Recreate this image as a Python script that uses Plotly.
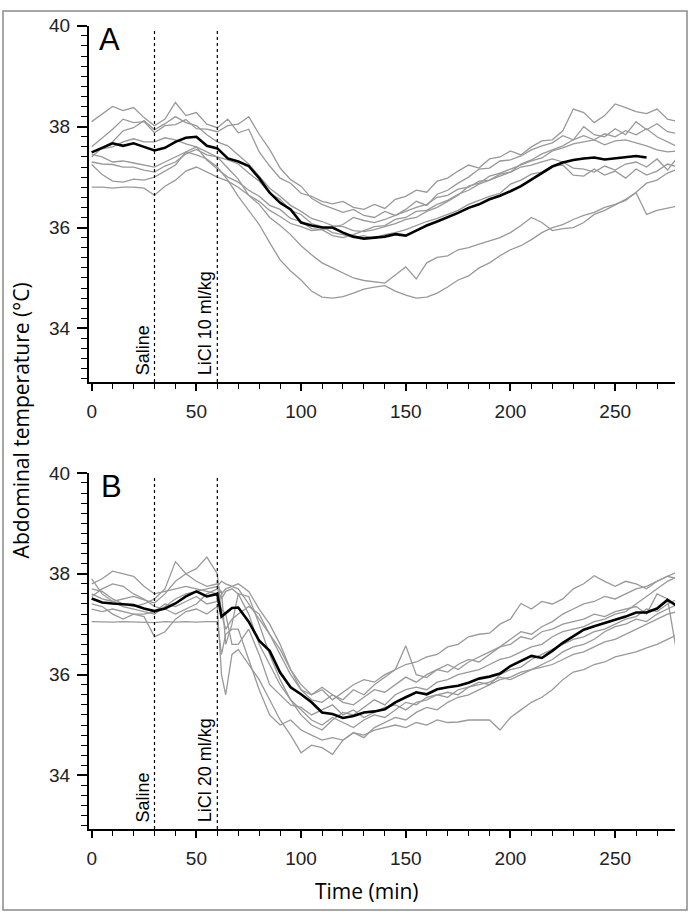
import plotly.graph_objects as go

# ---------------- data ----------------
# Panel A (LiCl 10 ml/kg): time grid in minutes
time_a = list(range(0, 281, 5))
a_traces = {
    "A1": [38.10, 38.25, 38.40, 38.32, 38.38, 38.18, 38.02, 38.15, 38.48, 38.22, 38.28, 38.05, 37.98, 38.15, 37.88, 37.95, 37.50, 37.22,
           36.98, 36.88, 36.68, 36.62, 36.52, 36.47, 36.52, 36.40, 36.36, 36.46, 36.38, 36.56, 36.62, 36.74, 36.70, 36.92, 36.98,
           37.12, 37.24, 37.18, 37.36, 37.40, 37.52, 37.44, 37.60, 37.72, 37.74, 37.92, 38.35, 38.28, 38.08, 38.22, 38.45, 38.38,
           38.30, 38.26, 38.35, 38.15, 38.10],
    "A2": [37.60, 37.78, 37.95, 38.15, 38.08, 38.10, 37.88, 38.02, 38.04, 38.14, 37.96, 37.95, 37.90, 38.02, 38.05, 38.20, 37.85, 37.55,
           37.18, 36.95, 36.82, 36.58, 36.46, 36.38, 36.30, 36.36, 36.24, 36.20, 36.32, 36.24, 36.36, 36.52, 36.44, 36.66, 36.74,
           36.88, 37.00, 37.16, 37.18, 37.32, 37.34, 37.42, 37.54, 37.62, 37.68, 37.82, 37.74, 38.00, 37.84, 37.80, 37.96, 37.84,
           38.10, 37.94, 38.06, 37.90, 37.86],
    "A3": [37.40, 37.58, 37.70, 37.92, 37.98, 38.12, 37.94, 38.06, 38.20, 38.08, 38.02, 37.84, 37.70, 37.62, 37.44, 37.26, 37.02, 36.78,
           36.62, 36.44, 36.32, 36.18, 36.12, 36.04, 36.02, 35.94, 35.92, 35.96, 36.02, 36.08, 36.16, 36.20, 36.32, 36.40, 36.52,
           36.64, 36.82, 36.88, 37.02, 37.08, 37.16, 37.24, 37.32, 37.38, 37.52, 37.58, 37.66, 37.70, 37.74, 37.64, 37.72, 37.74,
           37.68, 37.62, 37.54, 37.50, 37.52],
    "A4": [37.30, 37.26, 37.25, 37.20, 37.20, 37.14, 37.10, 37.22, 37.30, 37.46, 37.55, 37.44, 37.40, 37.34, 37.26, 37.08, 36.92, 36.68,
           36.56, 36.34, 36.26, 36.08, 36.02, 35.90, 35.86, 35.80, 35.84, 35.78, 35.86, 35.90, 35.96, 36.04, 36.12, 36.18, 36.26,
           36.34, 36.46, 36.54, 36.62, 36.68, 36.86, 36.94, 37.06, 37.10, 37.22, 37.24, 37.04, 37.02, 37.16, 37.04, 37.12, 36.98,
           37.16, 37.04, 37.12, 37.26, 37.20],
    "A5": [36.80, 36.80, 36.78, 36.80, 36.80, 36.78, 36.64, 36.82, 36.94, 37.12, 37.20, 37.10, 37.00, 36.92, 36.80, 36.64, 36.52, 36.34,
           36.22, 36.08, 36.02, 35.94, 35.96, 36.00, 36.06, 36.20, 36.14, 36.10, 36.16, 36.24, 36.32, 36.40, 36.46, 36.60, 36.64,
           36.76, 36.80, 36.92, 36.94, 37.02, 37.10, 37.20, 37.24, 37.30, 37.36, 37.30, 37.18, 37.16, 37.10, 37.22, 37.14, 37.26,
           37.30, 37.20, 37.36, 37.14, 37.40],
    "A6": [37.25, 37.05, 36.92, 36.90, 36.96, 36.94, 37.00, 37.12, 37.24, 37.50, 37.60, 37.34, 37.16, 37.00, 36.90, 36.74, 36.62, 36.44,
           36.36, 36.18, 36.12, 35.98, 35.96, 35.84, 35.80, 35.86, 35.94, 36.02, 36.04, 36.16, 36.20, 36.32, 36.34, 36.46, 36.54,
           36.66, 36.74, 36.86, 36.94, 37.06, 37.10, 37.26, 37.34, 37.46, 37.54, 37.62, 37.74, 37.82, 37.74, 37.86, 37.80, 37.92,
           37.84, 37.96, 37.80, 37.70, 37.60],
    "A7": [37.45, 37.40, 37.30, 37.32, 37.28, 37.24, 37.20, 37.30, 37.40, 37.50, 37.44, 37.36, 37.20, 36.94, 36.62, 36.34, 36.06, 35.70,
           35.36, 35.14, 34.96, 34.74, 34.62, 34.60, 34.63, 34.70, 34.78, 34.82, 34.85, 34.74, 34.66, 34.60, 34.62, 34.70, 34.82,
           34.96, 35.04, 35.20, 35.30, 35.44, 35.56, 35.64, 35.76, 35.90, 36.00, 36.06, 36.16, 36.24, 36.30, 36.40, 36.46, 36.54,
           36.70, 36.88, 36.94, 37.08, 37.16],
    "A8": [37.50, 37.56, 37.60, 37.70, 37.76, 37.70, 37.70, 37.78, 37.74, 37.66, 37.60, 37.50, 37.40, 37.18, 36.96, 36.64, 36.46, 36.20,
           36.04, 35.86, 35.64, 35.46, 35.30, 35.20, 35.10, 35.00, 34.95, 34.92, 34.90, 35.06, 35.22, 34.98, 35.30, 35.41, 35.44,
           35.56, 35.60, 35.67, 35.74, 35.80, 35.90, 36.04, 36.20, 36.10, 35.94, 35.98, 36.00, 36.10, 36.26, 36.34, 36.45, 36.56,
           36.69, 36.26, 36.34, 36.38, 36.43],
}
mean_time_a = list(range(0, 266, 5))
mean_a = [37.49, 37.58, 37.67, 37.62, 37.67, 37.60, 37.53, 37.58, 37.70, 37.78, 37.80, 37.62, 37.57, 37.37, 37.31, 37.22, 36.98,
          36.69, 36.49, 36.36, 36.10, 36.04, 36.00, 36.00, 35.90, 35.82, 35.78, 35.80, 35.82, 35.87, 35.84, 35.94, 36.04, 36.12,
          36.20, 36.29, 36.39, 36.46, 36.56, 36.63, 36.72, 36.82, 36.95, 37.08, 37.21, 37.29, 37.34, 37.37, 37.39, 37.35, 37.37,
          37.39, 37.42, 37.39]

# Panel B (LiCl 20 ml/kg): time grid in minutes
time_b = list(range(0, 61, 5)) + [62, 64, 67] + list(range(70, 281, 5))
b_traces = {
    "B1": [37.60, 37.50, 37.45, 37.50, 37.55, 37.48, 37.42, 37.60, 37.85, 38.00, 37.85, 37.75, 37.80, 37.60, 37.70, 37.75,
           37.70, 37.40, 37.10, 36.80, 36.50, 36.10, 35.80, 35.60, 35.70, 35.50, 35.65, 35.80, 35.90, 35.85, 36.00, 36.10, 36.20,
           36.25, 36.35, 36.40, 36.55, 36.60, 36.75, 36.80, 36.82, 37.00, 37.10, 37.41, 37.30, 37.45, 37.40, 37.50, 37.70, 37.80,
           37.96, 37.85, 37.75, 37.85, 37.80, 37.70, 37.85, 37.95, 38.04],
    "B2": [37.90, 37.60, 37.45, 37.35, 37.30, 37.25, 37.20, 37.35, 37.50, 37.60, 37.65, 37.70, 37.75, 37.85, 37.80, 37.75,
           37.80, 37.65, 37.30, 37.00, 36.60, 36.10, 35.70, 35.60, 35.75, 35.60, 35.50, 35.70, 35.60, 35.80, 35.95, 36.10, 36.57,
           36.00, 35.94, 36.10, 36.20, 36.10, 36.25, 36.35, 36.45, 36.55, 36.70, 36.85, 36.80, 36.95, 37.05, 37.20, 37.30, 37.40,
           37.45, 37.55, 37.50, 37.60, 37.70, 37.75, 37.85, 37.95, 37.90],
    "B3": [37.70, 37.65, 37.50, 37.40, 37.35, 37.40, 37.50, 37.70, 38.24, 38.00, 38.10, 38.33, 38.00, 37.20, 36.90, 37.10,
           37.20, 37.35, 37.20, 36.80, 36.40, 36.00, 35.70, 35.50, 35.45, 35.60, 35.45, 35.40, 35.55, 35.70, 35.65, 35.80, 35.95,
           35.85, 36.00, 36.10, 36.05, 36.20, 36.30, 36.25, 36.40, 36.55, 36.60, 36.75, 36.70, 36.85, 36.90, 37.00, 37.05, 37.10,
           37.20, 37.15, 37.25, 37.30, 37.35, 37.20, 37.60, 37.50, 36.30],
    "B4": [37.05, 37.04, 37.04, 37.05, 37.04, 37.04, 37.03, 37.05, 37.04, 37.05, 37.04, 37.05, 37.05, 36.40, 36.80, 36.90,
           36.90, 36.30, 35.70, 35.20, 35.00, 35.10, 34.90, 34.80, 34.70, 34.75, 34.70, 34.85, 34.80, 34.90, 34.95, 35.00, 34.95,
           35.05, 35.00, 35.10, 35.05, 35.06, 35.10, 35.10, 35.10, 34.90, 35.15, 35.30, 35.45, 35.55, 35.70, 35.90, 36.05, 36.10,
           36.20, 36.25, 36.35, 36.40, 36.45, 36.53, 36.60, 36.70, 36.80],
    "B5": [37.40, 37.35, 37.20, 37.10, 37.20, 37.15, 36.75, 36.85, 37.10, 37.25, 37.30, 37.20, 37.35, 36.00, 35.60, 36.40,
           36.50, 36.20, 35.90, 35.50, 35.10, 34.80, 34.45, 34.60, 34.55, 34.42, 34.70, 34.85, 34.75, 34.95, 35.05, 35.15, 35.10,
           35.25, 35.35, 35.30, 35.45, 35.55, 35.60, 35.70, 35.80, 35.90, 35.95, 36.05, 36.10, 36.20, 36.30, 36.45, 36.55, 36.60,
           36.70, 36.85, 36.95, 37.00, 37.10, 37.05, 37.20, 37.30, 37.40],
    "B6": [37.55, 37.70, 37.80, 37.75, 37.60, 37.50, 37.35, 37.30, 37.20, 37.30, 37.40, 37.60, 37.70, 37.50, 37.65, 37.70,
           37.60, 37.20, 36.60, 36.20, 35.80, 35.50, 35.30, 35.10, 35.00, 35.15, 35.05, 34.95, 35.10, 35.20, 35.15, 35.30, 35.45,
           35.40, 35.55, 35.60, 35.55, 35.70, 35.75, 35.85, 35.80, 36.00, 36.10, 36.15, 36.30, 36.40, 36.50, 36.60, 36.70, 36.75,
           36.85, 36.90, 37.00, 37.10, 37.15, 37.30, 37.25, 37.40, 37.50],
    "B7": [37.80, 37.90, 38.05, 38.00, 37.95, 37.75, 37.60, 37.65, 37.70, 37.75, 37.70, 37.65, 37.60, 37.65, 36.60, 37.00,
           37.60, 37.55, 37.00, 36.40, 35.90, 35.50, 35.20, 35.00, 34.90, 35.10, 35.25, 35.20, 35.35, 35.50, 35.40, 35.60, 35.70,
           35.75, 35.70, 35.85, 35.90, 36.00, 36.05, 36.10, 36.20, 36.30, 36.35, 36.45, 36.55, 36.60, 36.75, 36.85, 36.90, 36.95,
           37.05, 37.10, 37.20, 37.25, 37.40, 37.55, 37.70, 37.85, 37.95],
    "B8": [37.30, 37.25, 37.30, 37.25, 37.20, 37.20, 37.25, 37.40, 37.35, 37.45, 37.55, 37.40, 37.45, 37.30, 37.20, 36.60,
           36.60, 36.90, 36.40, 35.80, 35.60, 35.40, 35.35, 35.20, 35.30, 35.40, 35.20, 35.30, 35.15, 35.25, 35.35, 35.40, 35.30,
           35.45, 35.50, 35.60, 35.65, 35.60, 35.75, 35.80, 35.85, 35.95, 35.90, 36.00, 36.10, 36.15, 36.20, 36.30, 36.40, 36.45,
           36.55, 36.65, 36.70, 36.80, 36.90, 37.00, 37.10, 37.20, 37.25],
}
mean_b = [37.51, 37.43, 37.41, 37.40, 37.38, 37.31, 37.26, 37.31, 37.41, 37.55, 37.65, 37.55, 37.60, 37.15, 37.22, 37.32,
          37.33, 37.05, 36.67, 36.47, 36.04, 35.75, 35.61, 35.45, 35.25, 35.22, 35.14, 35.18, 35.25, 35.27, 35.31, 35.45, 35.55,
          35.65, 35.61, 35.71, 35.75, 35.78, 35.84, 35.92, 35.96, 36.02, 36.17, 36.27, 36.37, 36.33, 36.47, 36.63, 36.76, 36.89,
          36.96, 37.02, 37.08, 37.15, 37.23, 37.23, 37.31, 37.48, 37.35]

injection_times = [30, 60]
labels_a = ["Saline", "LiCl 10 ml/kg"]
labels_b = ["Saline", "LiCl 20 ml/kg"]
panel_letters = ["A", "B"]
x_ticks = [0, 50, 100, 150, 200, 250]
y_ticks = [34, 36, 38, 40]

# ---------------- figure ----------------
W, H = 689, 912
GRAY = "#999999"

fig = go.Figure()

for name, vals in a_traces.items():
    fig.add_trace(go.Scatter(x=time_a, y=vals, mode="lines", line=dict(color=GRAY, width=1.3),
                             xaxis="x", yaxis="y", showlegend=False, hoverinfo="skip"))
fig.add_trace(go.Scatter(x=mean_time_a, y=mean_a, mode="lines", line=dict(color="black", width=2.6),
                         xaxis="x", yaxis="y", showlegend=False))
for name, vals in b_traces.items():
    fig.add_trace(go.Scatter(x=time_b, y=vals, mode="lines", line=dict(color=GRAY, width=1.3),
                             xaxis="x2", yaxis="y2", showlegend=False, hoverinfo="skip"))
fig.add_trace(go.Scatter(x=time_b, y=mean_b, mode="lines", line=dict(color="black", width=2.6),
                         xaxis="x2", yaxis="y2", showlegend=False))

def px_x(p):
    return p / W

def px_y(p):
    return 1 - p / H

tickfont = dict(family="Liberation Sans, Arial, sans-serif", size=19, color="#222222")
xdom = [px_x(87), px_x(675)]

common_x = dict(range=[-1.4, 278.6], tickvals=x_ticks, ticks="outside", ticklen=7, tickwidth=1.5, tickcolor="black",
                showline=True, linecolor="black", linewidth=1.5, showgrid=False, zeroline=False,
                tickfont=tickfont, ticklabelstandoff=5,
                minor=dict(dtick=10, tick0=0, ticks="outside", ticklen=5, tickwidth=1.2, tickcolor="black", showgrid=False))
common_y = dict(range=[32.94, 40], tickvals=y_ticks, ticks="outside", ticklen=10, tickwidth=1.5, tickcolor="black",
                showline=True, linecolor="black", linewidth=1.5, showgrid=False, zeroline=False,
                tickfont=tickfont, ticklabelstandoff=3,
                minor=dict(dtick=0.2, tick0=0, ticks="outside", ticklen=6, tickwidth=1.2, tickcolor="black", showgrid=False))

fig.update_layout(
    width=W, height=H, margin=dict(l=0, r=0, t=0, b=0),
    paper_bgcolor="white", plot_bgcolor="white",
    xaxis=dict(domain=xdom, anchor="y", **common_x),
    yaxis=dict(domain=[px_y(376), px_y(16)], anchor="x", **common_y),
    xaxis2=dict(domain=xdom, anchor="y2", **common_x),
    yaxis2=dict(domain=[px_y(828), px_y(468)], anchor="x2", **common_y),
)

shapes = []
annotations = []
ann_font = dict(family="Liberation Sans, Arial, sans-serif", size=18, color="black")
for (xa, ya, labels) in [("x", "y", labels_a), ("x2", "y2", labels_b)]:
    for t, lab in zip(injection_times, labels):
        shapes.append(dict(type="line", xref=xa, yref=ya + " domain", x0=t, x1=t, y0=0, y1=0.992,
                           line=dict(color="black", width=1.2, dash="dot")))
        annotations.append(dict(text=lab, xref=xa, yref=ya + " domain", x=t, y=0, xanchor="right", yanchor="bottom",
                                textangle=-90, showarrow=False, font=ann_font, yshift=5, xshift=0))

letter_font = dict(family="Liberation Sans, Arial, sans-serif", size=31, color="black")
annotations.append(dict(text=panel_letters[0], xref="paper", yref="paper", x=px_x(108), y=px_y(30),
                        xanchor="center", yanchor="middle", showarrow=False, font=letter_font))
annotations.append(dict(text=panel_letters[1], xref="paper", yref="paper", x=px_x(110), y=px_y(482),
                        xanchor="center", yanchor="middle", showarrow=False, font=letter_font))

title_font = dict(family="Open Sans, sans-serif", size=21, color="black")
annotations.append(dict(text="Time (min)", xref="paper", yref="paper", x=px_x(366), y=px_y(891),
                        xanchor="center", yanchor="middle", showarrow=False, font=title_font))
annotations.append(dict(text="Abdominal temperature (°C)", xref="paper", yref="paper", x=px_x(20), y=px_y(415),
                        xanchor="center", yanchor="middle", textangle=-90, showarrow=False, font=title_font))

# outer frame
shapes.append(dict(type="rect", xref="paper", yref="paper", x0=px_x(1), x1=px_x(687), y0=px_y(910), y1=px_y(1),
                   line=dict(color="#8a8a8a", width=1.5), fillcolor="rgba(0,0,0,0)", layer="above"))

fig.update_layout(shapes=shapes, annotations=annotations)
fig.write_html("out.html", config={"displayModeBar": False},
               post_script="document.body.style.margin='0px';document.body.style.overflow='hidden';")
